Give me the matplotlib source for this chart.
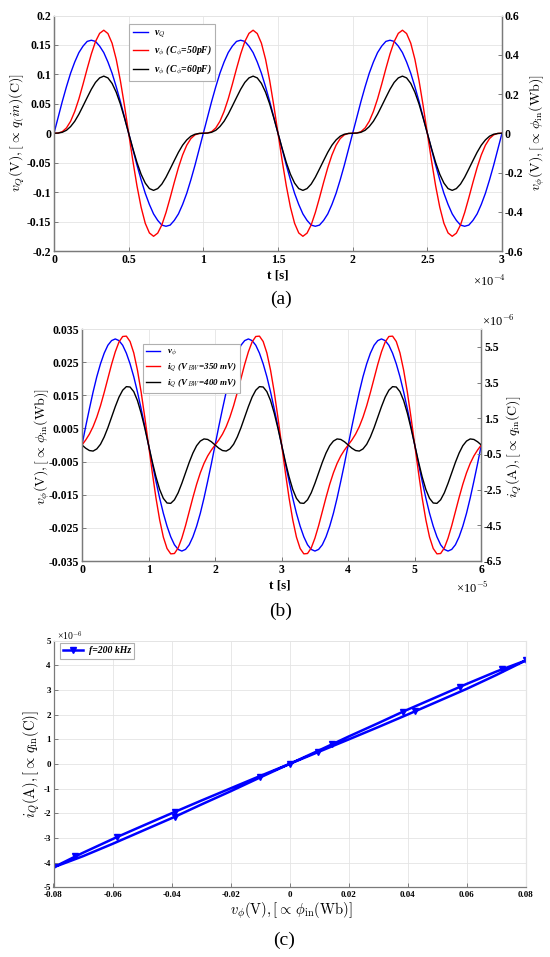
import numpy as np
import matplotlib
matplotlib.use('Agg')
import matplotlib.pyplot as plt
from matplotlib.lines import Line2D

plt.rcParams['mathtext.fontset'] = 'cm'
plt.rcParams['font.family'] = ['Liberation Serif', 'DejaVu Serif']

# ---------------- data ----------------
# Panel (a): time in units of 1e-4 s, 36 samples per period
t_a = np.linspace(0, 3, 109)
vQ_a = [0, 0.027, 0.054, 0.079, 0.102, 0.121, 0.137, 0.148, 0.156, 0.158, 0.156, 0.148, 0.137, 0.121, 0.102, 0.079, 0.054, 0.027,
        0, -0.027, -0.054, -0.079, -0.102, -0.121, -0.137, -0.148, -0.156, -0.158, -0.156, -0.148, -0.137, -0.121, -0.102, -0.079, -0.054, -0.027,
        0, 0.027, 0.054, 0.079, 0.102, 0.121, 0.137, 0.148, 0.156, 0.158, 0.156, 0.148, 0.137, 0.121, 0.102, 0.079, 0.054, 0.027,
        0, -0.027, -0.054, -0.079, -0.102, -0.121, -0.137, -0.148, -0.156, -0.158, -0.156, -0.148, -0.137, -0.121, -0.102, -0.079, -0.054, -0.027,
        0, 0.027, 0.054, 0.079, 0.102, 0.121, 0.137, 0.148, 0.156, 0.158, 0.156, 0.148, 0.137, 0.121, 0.102, 0.079, 0.054, 0.027,
        0, -0.027, -0.054, -0.079, -0.102, -0.121, -0.137, -0.148, -0.156, -0.158, -0.156, -0.148, -0.137, -0.121, -0.102, -0.079, -0.054, -0.027,
        0]
vphi50_a = [0, 0.001, 0.008, 0.027, 0.061, 0.111, 0.175, 0.250, 0.329, 0.404, 0.467, 0.509, 0.525, 0.508, 0.459, 0.377, 0.268, 0.139,
            0, -0.139, -0.268, -0.377, -0.459, -0.508, -0.525, -0.509, -0.467, -0.404, -0.329, -0.250, -0.175, -0.111, -0.061, -0.027, -0.008, -0.001,
            0, 0.001, 0.008, 0.027, 0.061, 0.111, 0.175, 0.250, 0.329, 0.404, 0.467, 0.509, 0.525, 0.508, 0.459, 0.377, 0.268, 0.139,
            0, -0.139, -0.268, -0.377, -0.459, -0.508, -0.525, -0.509, -0.467, -0.404, -0.329, -0.250, -0.175, -0.111, -0.061, -0.027, -0.008, -0.001,
            0, 0.001, 0.008, 0.027, 0.061, 0.111, 0.175, 0.250, 0.329, 0.404, 0.467, 0.509, 0.525, 0.508, 0.459, 0.377, 0.268, 0.139,
            0, -0.139, -0.268, -0.377, -0.459, -0.508, -0.525, -0.509, -0.467, -0.404, -0.329, -0.250, -0.175, -0.111, -0.061, -0.027, -0.008, -0.001,
            0]
vphi60_a = [0, 0.001, 0.005, 0.015, 0.034, 0.061, 0.097, 0.139, 0.182, 0.224, 0.259, 0.282, 0.291, 0.282, 0.254, 0.209, 0.149, 0.077,
            0, -0.077, -0.149, -0.209, -0.254, -0.282, -0.291, -0.282, -0.259, -0.224, -0.182, -0.139, -0.097, -0.061, -0.034, -0.015, -0.005, -0.001,
            0, 0.001, 0.005, 0.015, 0.034, 0.061, 0.097, 0.139, 0.182, 0.224, 0.259, 0.282, 0.291, 0.282, 0.254, 0.209, 0.149, 0.077,
            0, -0.077, -0.149, -0.209, -0.254, -0.282, -0.291, -0.282, -0.259, -0.224, -0.182, -0.139, -0.097, -0.061, -0.034, -0.015, -0.005, -0.001,
            0, 0.001, 0.005, 0.015, 0.034, 0.061, 0.097, 0.139, 0.182, 0.224, 0.259, 0.282, 0.291, 0.282, 0.254, 0.209, 0.149, 0.077,
            0, -0.077, -0.149, -0.209, -0.254, -0.282, -0.291, -0.282, -0.259, -0.224, -0.182, -0.139, -0.097, -0.061, -0.034, -0.015, -0.005, -0.001,
            0]
legend_a = [r'v$_Q$', r'v$_\phi$ (C$_\phi$=50pF)', r'v$_\phi$ (C$_\phi$=60pF)']

# Panel (b): time in units of 1e-5 s, currents in units of 1e-6 A
t_b = np.linspace(0, 6, 109)
vphi_b = [0, 0.0056, 0.0109, 0.016, 0.0206, 0.0245, 0.0277, 0.0301, 0.0315, 0.032, 0.0315, 0.0301, 0.0277, 0.0245, 0.0206, 0.016, 0.0109, 0.0056,
          0, -0.0056, -0.0109, -0.016, -0.0206, -0.0245, -0.0277, -0.0301, -0.0315, -0.032, -0.0315, -0.0301, -0.0277, -0.0245, -0.0206, -0.016, -0.0109, -0.0056,
          0, 0.0056, 0.0109, 0.016, 0.0206, 0.0245, 0.0277, 0.0301, 0.0315, 0.032, 0.0315, 0.0301, 0.0277, 0.0245, 0.0206, 0.016, 0.0109, 0.0056,
          0, -0.0056, -0.0109, -0.016, -0.0206, -0.0245, -0.0277, -0.0301, -0.0315, -0.032, -0.0315, -0.0301, -0.0277, -0.0245, -0.0206, -0.016, -0.0109, -0.0056,
          0, 0.0056, 0.0109, 0.016, 0.0206, 0.0245, 0.0277, 0.0301, 0.0315, 0.032, 0.0315, 0.0301, 0.0277, 0.0245, 0.0206, 0.016, 0.0109, 0.0056,
          0, -0.0056, -0.0109, -0.016, -0.0206, -0.0245, -0.0277, -0.0301, -0.0315, -0.032, -0.0315, -0.0301, -0.0277, -0.0245, -0.0206, -0.016, -0.0109, -0.0056,
          0]
iQ350_b = [0, 0.28, 0.61, 1.03, 1.56, 2.20, 2.94, 3.73, 4.52, 5.22, 5.77, 6.08, 6.10, 5.80, 5.16, 4.19, 2.96, 1.53,
           0, -1.53, -2.96, -4.19, -5.16, -5.80, -6.10, -6.08, -5.77, -5.22, -4.52, -3.73, -2.94, -2.20, -1.56, -1.03, -0.61, -0.28,
           0, 0.28, 0.61, 1.03, 1.56, 2.20, 2.94, 3.73, 4.52, 5.22, 5.77, 6.08, 6.10, 5.80, 5.16, 4.19, 2.96, 1.53,
           0, -1.53, -2.96, -4.19, -5.16, -5.80, -6.10, -6.08, -5.77, -5.22, -4.52, -3.73, -2.94, -2.20, -1.56, -1.03, -0.61, -0.28,
           0, 0.28, 0.61, 1.03, 1.56, 2.20, 2.94, 3.73, 4.52, 5.22, 5.77, 6.08, 6.10, 5.80, 5.16, 4.19, 2.96, 1.53,
           0, -1.53, -2.96, -4.19, -5.16, -5.80, -6.10, -6.08, -5.77, -5.22, -4.52, -3.73, -2.94, -2.20, -1.56, -1.03, -0.61, -0.28,
           0]
iQ400_b = [0, -0.18, -0.31, -0.34, -0.22, 0.04, 0.45, 0.97, 1.56, 2.15, 2.68, 3.07, 3.27, 3.25, 2.99, 2.49, 1.78, 0.93,
           0, -0.93, -1.78, -2.49, -2.99, -3.25, -3.27, -3.07, -2.68, -2.15, -1.56, -0.97, -0.45, -0.04, 0.22, 0.34, 0.31, 0.18,
           0, -0.18, -0.31, -0.34, -0.22, 0.04, 0.45, 0.97, 1.56, 2.15, 2.68, 3.07, 3.27, 3.25, 2.99, 2.49, 1.78, 0.93,
           0, -0.93, -1.78, -2.49, -2.99, -3.25, -3.27, -3.07, -2.68, -2.15, -1.56, -0.97, -0.45, -0.04, 0.22, 0.34, 0.31, 0.18,
           0, -0.18, -0.31, -0.34, -0.22, 0.04, 0.45, 0.97, 1.56, 2.15, 2.68, 3.07, 3.27, 3.25, 2.99, 2.49, 1.78, 0.93,
           0, -0.93, -1.78, -2.49, -2.99, -3.25, -3.27, -3.07, -2.68, -2.15, -1.56, -0.97, -0.45, -0.04, 0.22, 0.34, 0.31, 0.18,
           0]
legend_b = [r'v$_\phi$', r'i$_Q$ (V$_{BW}$=350 mV)', r'i$_Q$ (V$_{BW}$=400 mV)']

# Panel (c): loop, v_phi (V) vs i_Q (units of 1e-6 A)
loop_v = [-0.08, -0.0726, -0.07, -0.0586, -0.05, -0.039, -0.03, -0.02, -0.01, 0.0,
          0.01, 0.0143, 0.02, 0.03, 0.0383, 0.04, 0.05, 0.0577, 0.06, 0.07, 0.072, 0.08,
          0.07, 0.06, 0.05, 0.0425, 0.04, 0.03, 0.02, 0.0097, 0.0,
          -0.01, -0.02, -0.03, -0.039, -0.04, -0.05, -0.06, -0.07, -0.08]
loop_i = [-4.19, -3.75, -3.60, -2.97, -2.52, -1.95, -1.49, -0.99, -0.49, 0.0,
          0.55, 0.79, 1.11, 1.65, 2.11, 2.20, 2.72, 3.12, 3.24, 3.74, 3.83, 4.19,
          3.60, 3.04, 2.52, 2.13, 2.00, 1.49, 0.99, 0.48, 0.0,
          -0.55, -1.11, -1.65, -2.15, -2.20, -2.72, -3.24, -3.74, -4.19]
loop_markers = [0, 1, 3, 5, 9, 11, 14, 17, 20, 21, 25, 29, 31, 34]
legend_c = 'f=200 kHz'

# ---------------- layout helpers ----------------
W, H = 550, 957
fig = plt.figure(figsize=(W/100, H/100), dpi=100)

def rect(l, r, t, b):
    return [l/W, 1 - b/H, (r-l)/W, (b-t)/H]

def fx(x, y):
    return x/W, 1 - y/H

SPINE = '#7a7a7a'
GRID = '#e4e4e4'

def style(ax, fs, xpad=2):
    for s in ['left', 'bottom', 'right']:
        ax.spines[s].set_color(SPINE)
        ax.spines[s].set_linewidth(0.9)
    ax.spines['top'].set_color(GRID)
    ax.spines['top'].set_linewidth(0.7)
    ax.tick_params(direction='in', length=3, width=0.7, color=SPINE,
                   labelsize=fs, labelcolor='black', pad=2)
    ax.tick_params(axis='x', pad=xpad)
    for lab in ax.get_xticklabels() + ax.get_yticklabels():
        lab.set_fontweight('bold')

def fmt(v):
    s = ('%.4f' % v).rstrip('0').rstrip('.')
    if s == '-0':
        s = '0'
    return s

LEGPROP = {'family': 'Liberation Serif', 'weight': 'bold', 'style': 'italic'}

# ---------------- panel (a) ----------------
axa = fig.add_axes(rect(54, 502, 15.5, 251))
l1, = axa.plot(t_a, vQ_a, color='#0000ff', lw=1.0)
axa.set_xlim(0, 3)
axa.set_ylim(-0.2, 0.2)
xt = [0, 0.5, 1, 1.5, 2, 2.5, 3]
yt = [-0.2, -0.15, -0.1, -0.05, 0, 0.05, 0.1, 0.15, 0.2]
axa.set_xticks(xt, [fmt(v) for v in xt])
axa.set_yticks(yt, [fmt(v) for v in yt])
axa.grid(True, color=GRID, lw=0.6)
axa.set_axisbelow(True)
axa2 = axa.twinx()
l2, = axa2.plot(t_a, vphi50_a, color='#ff0000', lw=1.0)
l3, = axa2.plot(t_a, vphi60_a, color='black', lw=1.0)
axa2.set_ylim(-0.6, 0.6)
yt2 = [-0.6, -0.4, -0.2, 0, 0.2, 0.4, 0.6]
axa2.set_yticks(yt2, [fmt(v) for v in yt2])
style(axa, 8.5)
style(axa2, 8.5)
leg = axa2.legend([l1, l2, l3], legend_a, loc='upper left', bbox_to_anchor=(0.168, 0.963),
                  borderaxespad=0, fancybox=False, edgecolor='#b0b0b0', framealpha=1,
                  prop=dict(LEGPROP, size=7),
                  handlelength=1.5, handletextpad=0.6, labelspacing=0.45, borderpad=0.4)
leg.get_frame().set_linewidth(0.8)
fig.text(*fx(278, 275), 't [s]', ha='center', va='center', fontsize=9.5, fontweight='bold')
fig.text(*fx(473, 281), '×10$^{-4}$', ha='left', va='center', fontsize=9)
fig.text(*fx(281, 299), '(a)', ha='center', va='center', fontsize=14)
fig.text(*fx(17, 133), r'$v_Q(\mathrm{V}), [\propto\, q_(in)(\mathrm{C})]$', rotation=90,
         ha='center', va='center', fontsize=10)
fig.text(*fx(537, 133), r'$v_\phi(\mathrm{V}), [\propto\, \phi_{\mathrm{in}}(\mathrm{Wb})]$', rotation=90,
         ha='center', va='center', fontsize=10)

# ---------------- panel (b) ----------------
axb = fig.add_axes(rect(82, 481.3, 329, 561))
m1, = axb.plot(t_b, vphi_b, color='#0000ff', lw=1.0)
axb.set_xlim(0, 6)
axb.set_ylim(-0.035, 0.035)
xtb = [0, 1, 2, 3, 4, 5, 6]
ytb = [-0.035, -0.025, -0.015, -0.005, 0.005, 0.015, 0.025, 0.035]
axb.set_xticks(xtb, [fmt(v) for v in xtb])
axb.set_yticks(ytb, [fmt(v) for v in ytb])
axb.grid(True, color=GRID, lw=0.6)
axb.set_axisbelow(True)
axb2 = axb.twinx()
m2, = axb2.plot(t_b, iQ350_b, color='#ff0000', lw=1.0)
m3, = axb2.plot(t_b, iQ400_b, color='black', lw=1.0)
axb2.set_ylim(-6.5, 6.5)
ytb2 = [-6.5, -4.5, -2.5, -0.5, 1.5, 3.5, 5.5]
axb2.set_yticks(ytb2, [fmt(v) for v in ytb2])
style(axb, 8.5)
style(axb2, 8.5)
legb = axb2.legend([m1, m2, m3], legend_b, loc='upper left', bbox_to_anchor=(0.1535, 0.934),
                   borderaxespad=0, fancybox=False, edgecolor='#b0b0b0', framealpha=1,
                   prop=dict(LEGPROP, size=6.5),
                   handlelength=1.5, handletextpad=0.8, labelspacing=0.4, borderpad=0.35)
legb.get_frame().set_linewidth(0.8)
fig.text(*fx(280, 585), 't [s]', ha='center', va='center', fontsize=9.5, fontweight='bold')
fig.text(*fx(456, 588), '×10$^{-5}$', ha='left', va='center', fontsize=9)
fig.text(*fx(482, 321), '×10$^{-6}$', ha='left', va='center', fontsize=9)
fig.text(*fx(281, 611), '(b)', ha='center', va='center', fontsize=14)
fig.text(*fx(42, 447), r'$v_\phi(\mathrm{V}), [\propto\, \phi_{\mathrm{in}}(\mathrm{Wb})]$', rotation=90,
         ha='center', va='center', fontsize=10)
fig.text(*fx(514, 447), r'$i_Q(\mathrm{A}), [\propto\, q_{\mathrm{in}}(\mathrm{C})]$', rotation=90,
         ha='center', va='center', fontsize=10)

# ---------------- panel (c) ----------------
axc = fig.add_axes(rect(53.5, 525.7, 640.5, 887.3))
lc, = axc.plot(loop_v, loop_i, color='#0000ff', lw=1.8, marker='v', markersize=4,
               markevery=loop_markers, markerfacecolor='#0000ff', markeredgecolor='#0000ff')
axc.set_xlim(-0.08, 0.08)
axc.set_ylim(-5, 5)
xtc = [-0.08, -0.06, -0.04, -0.02, 0, 0.02, 0.04, 0.06, 0.08]
ytc = [-5, -4, -3, -2, -1, 0, 1, 2, 3, 4, 5]
axc.set_xticks(xtc, [fmt(v) for v in xtc])
axc.set_yticks(ytc, [fmt(v) for v in ytc])
axc.grid(True, color=GRID, lw=0.6)
axc.set_axisbelow(True)
style(axc, 6.5, xpad=3)
axc.spines['right'].set_color(GRID)
legc = axc.legend([Line2D([], [], color='#0000ff', lw=1.8, marker='v', markersize=4)], [legend_c],
                  loc='upper left', bbox_to_anchor=(0.0138, 0.99), borderaxespad=0,
                  fancybox=False, edgecolor='#b0b0b0', framealpha=1,
                  prop=dict(LEGPROP, size=7),
                  handlelength=2.0, handletextpad=0.6, borderpad=0.35)
legc.get_frame().set_linewidth(0.8)
fig.text(*fx(57, 636), '×10$^{-6}$', ha='left', va='center', fontsize=7)
fig.text(*fx(291, 911), r'$v_\phi(\mathrm{V}), [\propto\, \phi_{\mathrm{in}}(\mathrm{Wb})]$',
         ha='center', va='center', fontsize=10.5)
fig.text(*fx(32, 764), r'$i_Q(\mathrm{A}), [\propto\, q_{\mathrm{in}}(\mathrm{C})]$', rotation=90,
         ha='center', va='center', fontsize=10.5)
fig.text(*fx(284, 940), '(c)', ha='center', va='center', fontsize=14)

fig.savefig('out.png', dpi=100)
